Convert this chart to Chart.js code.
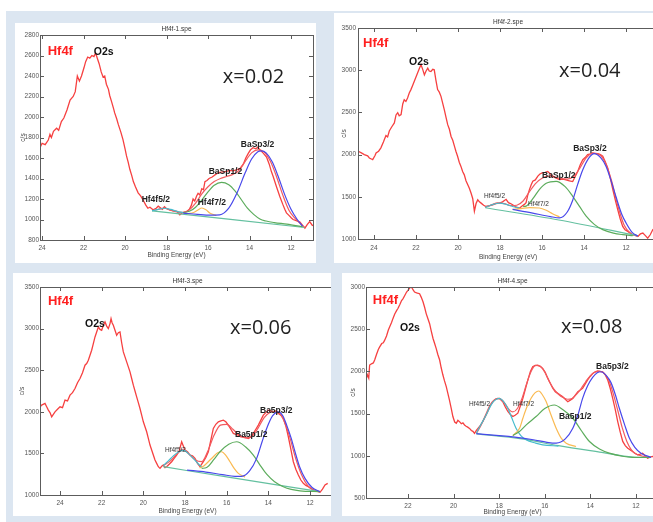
<!DOCTYPE html>
<html>
<head>
<meta charset="utf-8">
<script src="https://cdn.jsdelivr.net/npm/chart.js@4.4.1/dist/chart.umd.min.js"></script>
<style>
  body { margin: 0; width: 653px; height: 522px; overflow: hidden; background: #fff; position: relative; }
  #frame { position: absolute; left: 6px; top: 11px; right: 0; bottom: 0; background: #dce6f1; }
  .card { position: absolute; background: #fff; overflow: hidden; }
  .card canvas { position: absolute; left: 0; top: 0; }
</style>
</head>
<body>
<div id="frame"></div>
<div class="card" style="left:15px;top:23px;width:301px;height:240px"><canvas id="chart1" width="301" height="240"></canvas></div>
<div class="card" style="left:334px;top:13px;width:319px;height:250px"><canvas id="chart2" width="340" height="250"></canvas></div>
<div class="card" style="left:13px;top:273px;width:318px;height:243px"><canvas id="chart3" width="330" height="243"></canvas></div>
<div class="card" style="left:342px;top:273px;width:311px;height:243px"><canvas id="chart4" width="330" height="243"></canvas></div>
<script>
// ---- tick labels ----
const xTicksA = [24, 22, 20, 18, 16, 14, 12];
const xTicksB = [22, 20, 18, 16, 14, 12];
const yTicks1 = [800, 1000, 1200, 1400, 1600, 1800, 2000, 2200, 2400, 2600, 2800];
const yTicks23 = [1000, 1500, 2000, 2500, 3000, 3500];
const yTicks4 = [500, 1000, 1500, 2000, 2500, 3000];

// ---- x=0.02 (Hf4f-1.spe) ----
const p1Energy = [24.2,24.1,24.0,23.85,23.7,23.62,23.55,23.45,23.3,23.2,23.07,22.95,22.8,22.65,22.5,22.4,22.3,22.2,22.1,21.98,21.9,21.8,21.7,21.6,21.5,21.42,21.35,21.25,21.15,21.06,20.98,20.9,20.8,20.74,20.65,20.55,20.5,20.4,20.33,20.2,20.1,20.0,19.93,19.85,19.77,19.68,19.6,19.5,19.37,19.25,19.13,19.0,18.9,18.8,18.65,18.5,18.4,18.33,18.2,18.1,18.0,17.85,17.68,17.5,17.36,17.2,17.04,16.9,16.8,16.72,16.64,16.55,16.48,16.4,16.3,16.22,16.15,16.05,15.95,15.8,15.6,15.45,15.27,15.1,14.95,14.8,14.63,14.45,14.3,14.18,14.06,13.95,13.83,13.7,13.6,13.5,13.35,13.18,13.05,12.95,12.86,12.7,12.54,12.4,12.3,12.22,12.1,11.98,11.9,11.75,11.57,11.45,11.33,11.22,11.1,10.98,10.85];
const p1Counts = [1727,1700,1743,1730,1775,1830,1800,1860,1890,1870,1955,1990,2068,2166,2200,2247,2400,2350,2400,2480,2540,2585,2575,2600,2590,2625,2580,2520,2440,2390,2400,2320,2270,2210,2150,2080,2040,1980,1930,1850,1780,1690,1620,1560,1490,1430,1370,1320,1260,1230,1190,1140,1110,1120,1095,1110,1130,1120,1100,1125,1105,1095,1085,1080,1045,1070,1076,1100,1140,1200,1180,1230,1255,1240,1300,1290,1370,1380,1400,1415,1445,1460,1465,1470,1480,1475,1485,1500,1540,1600,1645,1680,1700,1690,1705,1680,1650,1610,1540,1470,1420,1320,1225,1150,1100,1065,1040,1015,1000,990,975,945,915,950,980,945,930];
const p1FitE = [18.7,18.4,18.1,17.8,17.5,17.2,16.9,16.6,16.3,16.0,15.7,15.4,15.1,14.8,14.5,14.2,13.9,13.6,13.3,13.0,12.7,12.4,12.1,11.8,11.5,11.35];
const p1Fit = [1085,1100,1112,1090,1075,1068,1095,1160,1250,1320,1370,1400,1420,1440,1480,1570,1650,1680,1660,1570,1420,1240,1090,1010,950,925];
const p1BgE = [18.7, 11.35];
const p1Bg = [1085, 922];
const p1Ba32E = [17.2,16.5,15.9,15.44,15.0,14.6,14.2,13.9,13.6,13.43,13.2,12.9,12.6,12.3,12.0,11.7,11.44];
const p1Ba32 = [1063,1050,1042,1045,1110,1260,1460,1590,1660,1670,1650,1560,1410,1240,1100,1000,935];
const p1Ba12E = [17.2,16.9,16.6,16.3,16.0,15.7,15.35,15.0,14.7,14.4,14.1,13.8,13.5,13.2,12.8,12.2,11.44];
const p1Ba12 = [1068,1080,1120,1190,1270,1335,1363,1340,1280,1195,1110,1050,1005,985,970,955,930];
const p1Hf72E = [17.0,16.7,16.5,16.3,16.1,15.9,15.6];
const p1Hf72 = [1058,1068,1090,1112,1095,1060,1040];
const p1Hf52E = [18.7,18.4,18.1,17.8,17.5,17.2];
const p1Hf52 = [1085,1098,1110,1098,1080,1068];

// ---- x=0.04 (Hf4f-2.spe) ----
const p2Energy = [24.75,24.6,24.46,24.3,24.22,24.1,24.06,23.95,23.9,23.78,23.67,23.55,23.43,23.35,23.27,23.15,23.03,22.95,22.87,22.8,22.71,22.63,22.56,22.48,22.4,22.32,22.24,22.16,22.08,22.0,21.92,21.84,21.76,21.68,21.6,21.52,21.44,21.37,21.29,21.2,21.13,21.05,20.97,20.89,20.81,20.73,20.65,20.57,20.49,20.41,20.33,20.25,20.17,20.1,20.02,19.94,19.86,19.78,19.7,19.62,19.54,19.46,19.38,19.3,19.22,19.14,19.06,18.98,18.9,18.78,18.67,18.5,18.35,18.2,18.03,17.88,17.71,17.6,17.5,17.4,17.25,17.08,16.95,16.84,16.76,16.68,16.6,16.52,16.44,16.32,16.2,16.1,15.97,15.85,15.73,15.6,15.49,15.35,15.17,15.0,14.86,14.7,14.54,14.42,14.3,14.18,14.06,13.95,13.83,13.7,13.59,13.47,13.35,13.22,13.11,13.0,12.87,12.75,12.63,12.5,12.4,12.28,12.16,12.05,11.92,11.8,11.68,11.55,11.44,11.32,11.2,11.08,10.97,10.85,10.73,10.6];
const p2Counts = [2040,2020,2000,1985,1960,1945,1940,1990,2020,2040,2080,2150,2225,2210,2280,2330,2375,2470,2495,2460,2475,2600,2650,2630,2670,2730,2770,2820,2870,2920,2970,3020,3065,3010,2945,2990,3025,2990,2985,3010,3005,2880,2770,2740,2690,2610,2530,2440,2355,2300,2215,2170,2100,2040,1980,1910,1860,1800,1760,1690,1645,1600,1545,1480,1330,1420,1465,1440,1425,1400,1385,1395,1405,1420,1425,1440,1470,1430,1420,1405,1380,1365,1390,1410,1430,1520,1585,1640,1685,1700,1745,1770,1785,1790,1800,1770,1745,1725,1705,1710,1700,1690,1680,1740,1800,1880,1940,1965,2000,2010,2020,2015,2010,2000,1980,1920,1840,1720,1585,1450,1350,1240,1150,1110,1090,1070,1050,1045,1030,1060,1070,1040,1010,1050,1110,1080];
const p2FitE = [18.7,18.4,18.1,17.8,17.5,17.2,16.9,16.6,16.3,16.0,15.7,15.4,15.1,14.8,14.5,14.2,13.9,13.6,13.3,13.0,12.7,12.4,12.1,11.8,11.5,11.4];
const p2Fit = [1375,1405,1428,1420,1395,1400,1450,1560,1660,1720,1745,1735,1715,1710,1740,1840,1960,2015,2005,1910,1700,1400,1170,1070,1035,1030];
const p2BgE = [18.7, 15.2, 11.44];
const p2Bg = [1370, 1225, 1038];
const p2Ba32E = [17.4,16.5,15.6,15.17,14.8,14.54,14.3,14.06,13.8,13.51,13.2,12.95,12.7,12.48,12.2,12.0,11.7,11.44];
const p2Ba32 = [1350,1310,1265,1250,1320,1460,1650,1820,1950,2011,1960,1860,1680,1500,1290,1190,1075,1035];
const p2Ba12E = [16.9,16.76,16.4,16.13,15.8,15.33,14.9,14.54,14.2,13.9,13.5,13.11,12.6,12.16,11.68];
const p2Ba12 = [1385,1390,1490,1585,1660,1683,1620,1506,1380,1270,1170,1111,1070,1052,1040];
const p2Hf72E = [17.4,17.0,16.6,16.13,15.8,15.5,15.17];
const p2Hf72 = [1350,1360,1372,1367,1340,1300,1262];
const p2Hf52E = [18.7,18.4,18.03,17.7,17.4,17.08];
const p2Hf52 = [1375,1405,1425,1410,1385,1365];

// ---- x=0.06 (Hf4f-3.spe) ----
const p3Energy = [24.95,24.88,24.72,24.64,24.56,24.48,24.4,24.32,24.24,24.12,24.0,23.88,23.76,23.64,23.52,23.4,23.28,23.16,23.04,22.92,22.8,22.72,22.64,22.56,22.48,22.4,22.32,22.24,22.16,22.08,22.0,21.92,21.84,21.76,21.68,21.6,21.55,21.5,21.44,21.36,21.28,21.2,21.12,21.04,20.96,20.88,20.8,20.72,20.64,20.56,20.48,20.4,20.32,20.24,20.16,20.08,20.0,19.92,19.84,19.76,19.68,19.6,19.52,19.44,19.36,19.28,19.2,19.12,19.04,18.96,18.88,18.76,18.64,18.52,18.4,18.28,18.16,18.08,18.0,17.88,17.76,17.64,17.52,17.4,17.28,17.2,17.12,17.0,16.88,16.76,16.64,16.52,16.4,16.28,16.16,16.04,15.92,15.8,15.68,15.56,15.44,15.32,15.2,15.08,14.96,14.84,14.72,14.6,14.48,14.36,14.24,14.12,14.0,13.88,13.76,13.64,13.52,13.4,13.28,13.16,13.04,12.92,12.8,12.68,12.56,12.44,12.32,12.2,12.08,11.96,11.84,11.68,11.52,11.4,11.28,11.15];
const p3Counts = [2060,2080,2100,2060,2020,1990,1940,1970,2000,2030,2060,2050,2140,2130,2200,2230,2280,2350,2400,2470,2560,2580,2620,2680,2740,2820,2900,2960,3020,2990,2980,3040,3080,3030,3000,3060,3120,3070,3040,2980,2920,2950,2960,2830,2720,2660,2600,2540,2480,2400,2320,2250,2180,2110,2040,1960,1880,1820,1760,1680,1600,1540,1480,1420,1380,1340,1320,1345,1360,1330,1340,1370,1400,1440,1480,1530,1640,1590,1540,1520,1480,1470,1440,1380,1340,1370,1400,1450,1520,1660,1800,1850,1880,1890,1900,1880,1840,1790,1740,1730,1720,1700,1700,1690,1680,1700,1740,1790,1840,1900,1960,1990,2020,2010,2000,2010,1980,1960,1920,1830,1700,1550,1400,1310,1240,1180,1140,1115,1100,1080,1060,1045,1032,1070,1120,1140];
const p3FitE = [19.0,18.7,18.4,18.1,17.8,17.5,17.2,16.9,16.6,16.3,16.0,15.7,15.4,15.1,14.8,14.5,14.2,13.9,13.6,13.3,13.0,12.7,12.4,12.1,11.8,11.52];
const p3Fit = [1360,1410,1490,1545,1490,1420,1400,1530,1720,1840,1850,1790,1720,1685,1700,1800,1930,1995,2005,1920,1720,1450,1240,1110,1060,1040];
const p3BgE = [19.04, 15.7, 11.52];
const p3Bg = [1340, 1205, 1040];
const p3Ba32E = [17.9,17.0,16.2,15.6,15.28,14.9,14.56,14.3,14.08,13.8,13.52,13.3,13.12,12.9,12.72,12.5,12.24,11.9,11.52];
const p3Ba32 = [1300,1275,1245,1225,1225,1290,1440,1640,1800,1950,2000,1950,1840,1680,1520,1340,1200,1090,1040];
const p3Ba12E = [17.2,16.96,16.6,16.32,15.9,15.52,15.1,14.72,14.4,14.08,13.7,13.28,12.9,12.48,11.52];
const p3Ba12 = [1320,1330,1430,1520,1610,1640,1580,1480,1360,1250,1160,1100,1068,1050,1040];
const p3Hf72E = [17.3,17.12,16.88,16.64,16.45,16.24,16.05,15.84,15.64,15.44,15.12];
const p3Hf72 = [1325,1345,1400,1460,1505,1520,1480,1400,1320,1260,1215];
const p3Hf52E = [19.04,18.8,18.56,18.3,18.08,17.85,17.6,17.4,17.2];
const p3Hf52 = [1355,1410,1470,1520,1540,1500,1440,1385,1335];

// ---- x=0.08 (Hf4f-4.spe) ----
const p4Energy = [23.84,23.78,23.72,23.68,23.6,23.52,23.46,23.38,23.3,23.24,23.15,23.08,23.02,22.94,22.86,22.8,22.72,22.66,22.58,22.5,22.44,22.36,22.28,22.22,22.14,22.06,22.0,21.92,21.85,21.78,21.71,21.62,21.55,21.49,21.42,21.34,21.27,21.2,21.12,21.05,20.98,20.9,20.83,20.76,20.69,20.61,20.54,20.47,20.4,20.32,20.25,20.18,20.1,20.03,19.95,19.88,19.81,19.74,19.66,19.59,19.52,19.45,19.38,19.3,19.22,19.15,19.08,19.0,18.93,18.85,18.78,18.72,18.6,18.5,18.4,18.28,18.17,18.06,17.95,17.84,17.73,17.62,17.51,17.4,17.3,17.18,17.07,16.96,16.85,16.74,16.63,16.53,16.42,16.31,16.2,16.09,15.98,15.87,15.76,15.65,15.54,15.43,15.32,15.21,15.1,14.99,14.88,14.77,14.66,14.55,14.44,14.34,14.23,14.12,14.01,13.9,13.79,13.68,13.57,13.46,13.35,13.24,13.13,13.02,12.91,12.8,12.69,12.58,12.47,12.36,12.25,12.15,12.04,11.93,11.82,11.71,11.6,11.49,11.38,11.27,11.15,11.05];
const p4Counts = [1900,1960,1920,2075,2090,2100,2135,2200,2260,2290,2330,2340,2370,2420,2490,2530,2580,2625,2680,2720,2745,2790,2840,2860,2900,2940,2960,2990,3000,2970,2940,2930,2925,2920,2880,2825,2760,2685,2620,2565,2480,2390,2330,2270,2200,2135,2040,1960,1890,1820,1740,1660,1560,1465,1400,1385,1420,1405,1380,1390,1365,1350,1340,1325,1300,1290,1265,1300,1325,1350,1380,1405,1470,1525,1590,1640,1670,1680,1670,1640,1580,1525,1490,1465,1480,1505,1590,1680,1790,1900,2000,2055,2070,2075,2060,2035,1990,1920,1860,1800,1760,1740,1720,1700,1670,1640,1660,1680,1720,1760,1780,1800,1850,1900,1940,1975,1995,2005,2000,1995,1960,1900,1800,1680,1550,1405,1280,1170,1120,1090,1070,1050,1030,1012,1020,1030,1000,972,985,992,980,975];
const p4FitE = [19.0,18.8,18.6,18.4,18.2,18.0,17.8,17.6,17.4,17.2,17.0,16.8,16.6,16.4,16.2,16.0,15.8,15.6,15.4,15.2,15.0,14.8,14.6,14.4,14.2,14.0,13.8,13.6,13.4,13.2,13.0,12.8,12.6,12.4,12.2,12.0,11.7,11.34];
const p4Fit = [1265,1360,1480,1600,1665,1680,1640,1560,1520,1560,1680,1850,2000,2070,2060,1990,1880,1790,1730,1690,1670,1680,1730,1800,1880,1950,1990,2000,1980,1900,1740,1540,1330,1170,1070,1020,995,982];
const p4BgE = [19.0, 17.0, 15.4, 13.5, 12.15, 11.34];
const p4Bg = [1260, 1200, 1120, 1040, 985, 980];
const p4Ba32E = [19.0,18.0,17.4,16.5,15.9,15.5,15.1,14.77,14.55,14.34,14.12,13.9,13.7,13.53,13.3,13.1,12.9,12.73,12.5,12.29,12.05,11.78,11.34];
const p4Ba32 = [1262,1240,1225,1190,1160,1150,1200,1327,1480,1681,1830,1930,1985,1996,1950,1870,1720,1563,1370,1210,1100,1030,982];
const p4Ba12E = [17.4,17.11,16.8,16.38,16.0,15.58,15.2,14.77,14.4,14.04,13.6,13.17,12.6,12.15,11.34];
const p4Ba12 = [1240,1287,1370,1465,1560,1602,1545,1445,1300,1169,1080,1031,995,982,980];
const p4Hf72E = [17.4,17.1,16.96,16.78,16.6,16.43,16.26,16.1,15.94,15.72,15.5,15.28,15.06,14.63];
const p4Hf72 = [1240,1330,1445,1580,1681,1745,1768,1720,1642,1480,1327,1210,1150,1110];
const p4Hf52E = [19.0,18.8,18.57,18.4,18.28,18.12,17.99,17.8,17.62,17.45,17.26,17.05,16.82,16.4,16.09,15.4];
const p4Hf52 = [1268,1370,1484,1580,1634,1670,1681,1640,1563,1450,1327,1240,1189,1150,1130,1115];

// turn two arrays into {x, y} points
function pts(xs, ys) {
  return xs.map((x, i) => ({ x: x, y: ys[i] }));
}

const FONT = '"Liberation Sans", Arial, sans-serif';

// label styles (text drawn on top of the plot)
const labelStyles = {
  tag: { font: "bold 13px " + FONT, color: "#ff2020" },
  o2s: { font: "bold 10.5px " + FONT, color: "#111" },
  conc: { font: '20px "Open Sans", ' + FONT, color: "#222" },
  peak: { font: "bold 8.5px " + FONT, color: "#222" },
  small: { font: "6.5px " + FONT, color: "#333" },
};

const panels = [
  {
    id: "chart1", title: "Hf4f-1.spe", xMin: 10.94, xMax: 24.1, yMin: 800, yMax: 2800,
    xTicks: xTicksA, yTicks: yTicks1,
    pad: { left: 0, top: 12, right: 3, bottom: 4 }, yWidth: 25, xHeight: 19, yLabelPad: 1, xLabelPad: 4, yTitleGap: 17,
    series: [
      [p1Ba32E, p1Ba32], [p1Ba12E, p1Ba12], [p1Hf72E, p1Hf72], [p1Hf52E, p1Hf52],
      [p1BgE, p1Bg], [p1FitE, p1Fit], [p1Energy, p1Counts],
    ],
    labels: [
      { text: "Hf4f", x: 23.73, y: 2605, style: "tag" },
      { text: "O2s", x: 21.51, y: 2605, style: "o2s" },
      { text: "x=0.02", x: 15.29, y: 2332, style: "conc" },
      { text: "BaSp3/2", x: 14.42, y: 1707, style: "peak" },
      { text: "BaSp1/2", x: 15.97, y: 1444, style: "peak" },
      { text: "Hf4f5/2", x: 19.2, y: 1171, style: "peak" },
      { text: "Hf4f7/2", x: 16.5, y: 1141, style: "peak" },
    ],
  },
  {
    id: "chart2", title: "Hf4f-2.spe", xMin: 10.48, xMax: 24.76, yMin: 1000, yMax: 3500,
    xTicks: xTicksA, yTicks: yTicks23,
    pad: { left: 0, top: 15, right: 16, bottom: 2 }, yWidth: 24, xHeight: 22, yLabelPad: 2, xLabelPad: 5, yTitleGap: 14,
    series: [
      [p2Ba32E, p2Ba32], [p2Ba12E, p2Ba12], [p2Hf72E, p2Hf72], [p2Hf52E, p2Hf52],
      [p2BgE, p2Bg], [p2FitE, p2Fit], [p2Energy, p2Counts],
    ],
    labels: [
      { text: "Hf4f", x: 24.52, y: 3275, style: "tag" },
      { text: "O2s", x: 22.33, y: 3062, style: "o2s" },
      { text: "x=0.04", x: 15.19, y: 2920, style: "conc" },
      { text: "BaSp3/2", x: 14.52, y: 2043, style: "peak" },
      { text: "BaSp1/2", x: 16.0, y: 1723, style: "peak" },
      { text: "Hf4f5/2", x: 18.76, y: 1486, style: "small" },
      { text: "Hf4f7/2", x: 16.67, y: 1391, style: "small" },
    ],
  },
  {
    id: "chart3", title: "Hf4f-3.spe", xMin: 10.8, xMax: 24.96, yMin: 1000, yMax: 3500,
    xTicks: xTicksA, yTicks: yTicks23,
    pad: { left: 0, top: 14, right: 8, bottom: 1 }, yWidth: 27, xHeight: 20, yLabelPad: 1, xLabelPad: 4, yTitleGap: 18,
    series: [
      [p3Ba32E, p3Ba32], [p3Ba12E, p3Ba12], [p3Hf72E, p3Hf72], [p3Hf52E, p3Hf52],
      [p3BgE, p3Bg], [p3FitE, p3Fit], [p3Energy, p3Counts],
    ],
    labels: [
      { text: "Hf4f", x: 24.58, y: 3284, style: "tag" },
      { text: "O2s", x: 22.8, y: 3019, style: "o2s" },
      { text: "x=0.06", x: 15.84, y: 2935, style: "conc" },
      { text: "Ba5p3/2", x: 14.4, y: 1986, style: "peak" },
      { text: "Ba5p1/2", x: 15.6, y: 1697, style: "peak" },
      { text: "Hf4f5/2", x: 18.96, y: 1517, style: "small" },
    ],
  },
  {
    id: "chart4", title: "Hf4f-4.spe", xMin: 10.99, xMax: 23.84, yMin: 500, yMax: 3000,
    xTicks: xTicksB, yTicks: yTicks4,
    pad: { left: 0, top: 14, right: 13, bottom: 0 }, yWidth: 24, xHeight: 18, yLabelPad: 1, xLabelPad: 4, yTitleGap: 13,
    series: [
      [p4Ba32E, p4Ba32], [p4Ba12E, p4Ba12], [p4Hf72E, p4Hf72], [p4Hf52E, p4Hf52],
      [p4BgE, p4Bg], [p4FitE, p4Fit], [p4Energy, p4Counts],
    ],
    labels: [
      { text: "Hf4f", x: 23.54, y: 2799, style: "tag" },
      { text: "O2s", x: 22.35, y: 2479, style: "o2s" },
      { text: "x=0.08", x: 15.29, y: 2455, style: "conc" },
      { text: "Ba5p3/2", x: 13.75, y: 2029, style: "peak" },
      { text: "Ba5p1/2", x: 15.38, y: 1436, style: "peak" },
      { text: "Hf4f5/2", x: 19.32, y: 1590, style: "small" },
      { text: "Hf4f7/2", x: 17.39, y: 1590, style: "small" },
    ],
  },
];

// same order as "series" above: first one is drawn on top
const seriesColors = [
  "rgb(72, 72, 235)",   // BaSp3/2
  "rgb(92, 172, 92)",   // BaSp1/2
  "rgb(250, 186, 82)",  // Hf4f7/2
  "rgb(70, 188, 205)",  // Hf4f5/2
  "rgb(100, 192, 160)", // background
  "rgb(242, 90, 95)",   // envelope
  "rgb(246, 64, 64)",   // raw spectrum
];

// frame, inward tick marks, file title, c/s title and peak labels
const decorPlugin = {
  id: "decor",
  afterDraw(chart, args, opts) {
    const { ctx, chartArea: a, scales } = chart;
    const x = scales.x;
    const y = scales.y;
    ctx.save();
    ctx.strokeStyle = "#5c5c5c";
    ctx.lineWidth = 1;
    ctx.strokeRect(Math.round(a.left) + 0.5, Math.round(a.top) + 0.5,
      Math.round(a.right - a.left), Math.round(a.bottom - a.top));

    ctx.beginPath();
    x.ticks.forEach((t) => {
      const px = Math.round(x.getPixelForValue(t.value)) + 0.5;
      ctx.moveTo(px, a.bottom); ctx.lineTo(px, a.bottom - 4);
      ctx.moveTo(px, a.top); ctx.lineTo(px, a.top + 4);
    });
    y.ticks.forEach((t) => {
      const py = Math.round(y.getPixelForValue(t.value)) + 0.5;
      ctx.moveTo(a.left, py); ctx.lineTo(a.left + 4, py);
      ctx.moveTo(a.right, py); ctx.lineTo(a.right - 4, py);
    });
    ctx.stroke();

    ctx.fillStyle = "#333";
    ctx.font = "6.5px " + FONT;
    ctx.textAlign = "center";
    ctx.textBaseline = "alphabetic";
    ctx.fillText(opts.title, (a.left + a.right) / 2, a.top - 4);

    // rotated y title
    ctx.save();
    ctx.translate(a.left - opts.yTitleGap, (a.top + a.bottom) / 2);
    ctx.rotate(-Math.PI / 2);
    ctx.textBaseline = "middle";
    ctx.fillStyle = "#444";
    ctx.fillText("c/s", 0, 0);
    ctx.restore();

    ctx.textAlign = "left";
    opts.labels.forEach((l) => {
      const s = labelStyles[l.style];
      ctx.font = s.font;
      ctx.fillStyle = s.color;
      ctx.fillText(l.text, x.getPixelForValue(l.x), y.getPixelForValue(l.y));
    });
    ctx.restore();
  },
};

Chart.defaults.font.family = FONT;
Chart.defaults.animation = false;

document.addEventListener("DOMContentLoaded", () => {
  panels.forEach((p) => {
    const ctx = document.getElementById(p.id).getContext("2d");

    const datasets = p.series.map((s, i) => ({
      data: pts(s[0], s[1]),
      borderColor: seriesColors[i],
      borderWidth: i === 6 ? 1.3 : 1.2,
      pointRadius: 0,
      fill: false,
      tension: 0,
      cubicInterpolationMode: i === 6 ? "default" : "monotone",
    }));

    new Chart(ctx, {
      type: "line",
      data: { datasets: datasets },
      options: {
        responsive: false,
        layout: { padding: p.pad },
        plugins: {
          legend: { display: false },
          tooltip: { enabled: false },
          decor: { title: p.title, labels: p.labels, yTitleGap: p.yTitleGap },
        },
        scales: {
          x: {
            type: "linear",
            reverse: true,
            min: p.xMin,
            max: p.xMax,
            grid: { display: false, drawTicks: false },
            border: { display: false },
            afterBuildTicks: (scale) => {
              scale.ticks = p.xTicks.map((v) => ({ value: v }));
            },
            afterFit: (scale) => {
              scale.height = p.xHeight;
            },
            ticks: {
              font: { size: 6.5 },
              color: "#555",
              padding: p.xLabelPad,
              maxRotation: 0,
              autoSkip: false,
              callback: (v) => String(v),
            },
            title: {
              display: true,
              text: "Binding Energy (eV)",
              font: { size: 6.5 },
              color: "#444",
              padding: 0,
            },
          },
          y: {
            type: "linear",
            min: p.yMin,
            max: p.yMax,
            grid: { display: false, drawTicks: false },
            border: { display: false },
            afterBuildTicks: (scale) => {
              scale.ticks = p.yTicks.map((v) => ({ value: v }));
            },
            afterFit: (scale) => {
              scale.width = p.yWidth;
            },
            ticks: {
              font: { size: 6.5 },
              color: "#555",
              padding: p.yLabelPad,
              autoSkip: false,
              callback: (v) => String(v),
            },
          },
        },
      },
      plugins: [decorPlugin],
    });
  });
});
</script>
</body>
</html>
